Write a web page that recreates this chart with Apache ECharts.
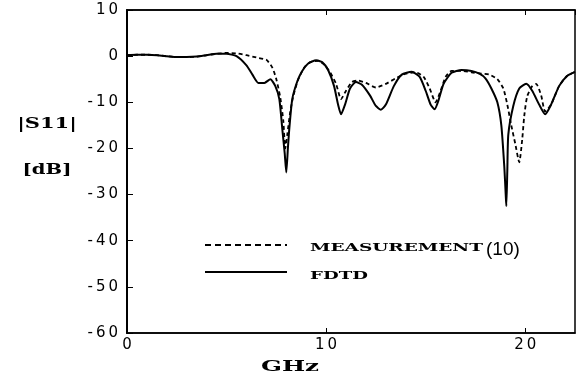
<!DOCTYPE html>
<html>
<head>
<meta charset="utf-8">
<script src="https://cdn.jsdelivr.net/npm/echarts@6/dist/echarts.min.js"></script>
<style>
    html, body { margin: 0; padding: 0; background: #fff; }
    #main { width: 579px; height: 376px; }
</style>
</head>
<body>
<div id="main"></div>
<script>
// frequency axis (GHz) and |S11| (dB)
var xTicks = [0, 10, 20];
var yTicks = [10, 0, -10, -20, -30, -40, -50, -60];

var fdtdGhz = [0, 0.5, 1, 1.5, 2, 2.5, 3, 3.5, 4, 4.5, 5, 5.5, 6.0, 6.3, 6.6, 6.9, 7.2, 7.45, 7.65, 7.8, 7.92, 8.0, 8.08, 8.15, 8.3, 8.55, 8.8, 9.1, 9.5, 9.8, 10.1, 10.4, 10.6, 10.75, 10.95, 11.2, 11.5, 11.8, 12.2, 12.5, 12.75, 13.0, 13.4, 13.8, 14.3, 14.7, 15.0, 15.25, 15.45, 15.65, 15.9, 16.3, 16.8, 17.3, 17.7, 18.0, 18.3, 18.6, 18.8, 18.95, 19.02, 19.05, 19.1, 19.15, 19.4, 19.7, 20.05, 20.35, 20.7, 21.0, 21.3, 21.7, 22.1, 22.5];
var fdtdDb = [0.2, 0.3, 0.3, 0.2, 0.0, -0.2, -0.2, -0.1, 0.2, 0.5, 0.5, 0.0, -2.0, -4.0, -5.8, -5.8, -5.0, -6.5, -9.3, -15.8, -21, -25.2, -20, -15.8, -9.3, -5.5, -3.2, -1.6, -0.9, -1.3, -3.0, -6.5, -10.5, -12.6, -10.5, -7, -5.6, -6.2, -8.5, -10.8, -11.6, -10.5, -6.5, -4.0, -3.4, -4.5, -7.5, -10.5, -11.5, -9.5, -6, -3.6, -3.0, -3.2, -3.8, -4.8, -7, -10, -15, -24, -30, -32.5, -25, -17, -10.8, -7, -6.0, -7.5, -10.5, -12.6, -10.5, -6.5, -4.3, -3.4];

var measGhz = [0, 0.5, 1, 1.5, 2, 2.5, 3, 3.5, 4, 4.5, 5, 5.5, 6.0, 6.5, 7.0, 7.3, 7.5, 7.7, 7.85, 7.95, 8.05, 8.2, 8.35, 8.6, 8.9, 9.2, 9.6, 9.9, 10.2, 10.5, 10.75, 11.0, 11.3, 11.6, 12.0, 12.5, 13.0, 13.5, 14.0, 14.5, 14.9, 15.2, 15.5, 15.75, 16.0, 16.3, 16.8, 17.3, 17.8, 18.2, 18.6, 18.9, 19.1, 19.3, 19.5, 19.7, 19.85, 19.95, 20.1, 20.35, 20.55, 20.8, 21.0, 21.3, 21.7, 22.1, 22.5];
var measDb = [0.2, 0.3, 0.3, 0.2, 0.0, -0.2, -0.2, -0.1, 0.2, 0.5, 0.7, 0.6, 0.2, -0.3, -0.8, -2.5, -5, -9, -14, -20, -17, -12, -8.7, -5, -2.5, -1.3, -1.0, -1.8, -3.5, -6, -9.3, -7.5, -5.6, -5.3, -5.8, -6.8, -6, -4.8, -3.8, -3.5, -4.5, -7, -10, -7.5, -4.5, -3.2, -3.2, -3.5, -3.8, -4, -5, -7, -10.5, -15, -19, -23, -18, -13, -8.7, -6.5, -6, -8.5, -12, -10.5, -6.5, -4.3, -3.4];

function zip(xs, ys)
{
    var out = [];
    for (var i = 0; i < xs.length; i++) out.push([xs[i], ys[i]]);
    return out;
}

// the scanned figure uses wide digits, spread them a little
function spread(v)
{
    return String(v).split('').join('\u2009');
}

var bold = 'DejaVu Serif';
var myChart = echarts.init(document.getElementById('main'));

var option = {
    animation: false,
    backgroundColor: '#fff',
    grid: {
        left: 127,
        top: 10,
        right: 4,
        bottom: 43,
        show: true,
        borderColor: '#000',
        borderWidth: 1.5
    },
    xAxis: [
        {
            type: 'value',
            min: 0,
            max: 22.5,
            interval: 10,
            axisLine: {onZero: false, lineStyle: {color: '#000', width: 1.5}},
            axisTick: {inside: true, length: 5, lineStyle: {color: '#000'}},
            axisLabel: {
                showMaxLabel: false,
                margin: 5,
                color: '#000',
                fontFamily: 'DejaVu Sans',
                fontSize: 15,
                formatter: function (v) { return xTicks.indexOf(v) >= 0 ? spread(v) : ''; }
            },
            splitLine: {show: false}
        },
        {
            type: 'value',
            position: 'top',
            min: 0,
            max: 22.5,
            interval: 10,
            axisLine: {onZero: false, lineStyle: {color: '#000', width: 1.5}},
            axisTick: {inside: true, length: 5, lineStyle: {color: '#000'}},
            axisLabel: {show: false},
            splitLine: {show: false}
        }
    ],
    yAxis: {
        type: 'value',
        min: -60,
        max: 10,
        interval: 10,
        axisLine: {onZero: false, lineStyle: {color: '#000', width: 2}},
        axisTick: {inside: true, length: 6, lineStyle: {color: '#000'}},
        axisLabel: {
            margin: 9,
            color: '#000',
            fontFamily: 'DejaVu Sans',
            fontSize: 15,
            formatter: function (v) { return yTicks.indexOf(v) >= 0 ? spread(v) : ''; }
        },
        splitLine: {show: false}
    },
    series: [
        {
            name: 'MEASUREMENT',
            type: 'line',
            showSymbol: false,
            smooth: 0.2,
            data: zip(measGhz, measDb),
            lineStyle: {color: '#000', width: 1.8, type: [4, 3]}
        },
        {
            name: 'FDTD',
            type: 'line',
            showSymbol: false,
            smooth: 0.2,
            data: zip(fdtdGhz, fdtdDb),
            lineStyle: {color: '#000', width: 2}
        }
    ],
    graphic: [
        // axis titles
        {type: 'text', x: 47, y: 124, scaleX: 1.5, style: {text: '|S11|', font: 'bold 14px ' + bold, fill: '#000', align: 'center', verticalAlign: 'middle'}},
        {type: 'text', x: 47, y: 170, scaleX: 1.4, style: {text: '[dB]', font: 'bold 14px ' + bold, fill: '#000', align: 'center', verticalAlign: 'middle'}},
        {type: 'text', x: 290, y: 367, scaleX: 1.75, style: {text: 'GHz', font: 'bold 14px ' + bold, fill: '#000', align: 'center', verticalAlign: 'middle'}},
        // legend
        {type: 'line', shape: {x1: 205, y1: 245, x2: 287, y2: 245}, style: {stroke: '#000', lineWidth: 2, lineDash: [6, 4]}},
        {type: 'line', shape: {x1: 205, y1: 272, x2: 287, y2: 272}, style: {stroke: '#000', lineWidth: 2}},
        {type: 'text', x: 310, y: 248, scaleX: 1.68, style: {text: 'MEASUREMENT', font: 'bold 11px ' + bold, fill: '#000', align: 'left', verticalAlign: 'middle'}},
        {type: 'text', x: 486, y: 250, style: {text: '(10)', font: '19px Liberation Sans', fill: '#000', align: 'left', verticalAlign: 'middle'}},
        {type: 'text', x: 310, y: 276, scaleX: 1.65, style: {text: 'FDTD', font: 'bold 11px ' + bold, fill: '#000', align: 'left', verticalAlign: 'middle'}}
    ]
};
myChart.setOption(option);
</script>
</body>
</html>
